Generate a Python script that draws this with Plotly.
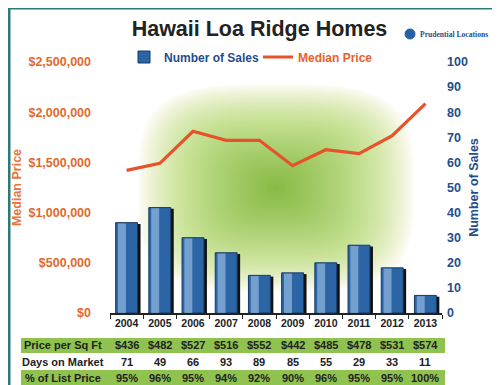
import base64, struct, zlib
import numpy as np
import plotly.graph_objects as go

# ---------------- data ----------------
years = ["2004", "2005", "2006", "2007", "2008", "2009", "2010", "2011", "2012", "2013"]
num_sales = [36, 42, 30, 24, 15, 16, 20, 27, 18, 7]
median_price = [1421000, 1491000, 1810000, 1720000, 1720000, 1467000, 1626000, 1587000, 1766000, 2085000]
price_per_sqft = ["$436", "$482", "$527", "$516", "$552", "$442", "$485", "$478", "$531", "$574"]
days_on_market = ["71", "49", "66", "93", "89", "85", "55", "29", "33", "11"]
pct_list_price = ["95%", "96%", "95%", "94%", "92%", "90%", "96%", "95%", "95%", "100%"]
row_labels = ["Price per Sq Ft", "Days on Market", "% of List Price"]
price_ticks = [0, 500000, 1000000, 1500000, 2000000, 2500000]
sales_ticks = list(range(0, 101, 10))

# ---------------- geometry helpers ----------------
W, H = 500, 385
ML, MR, MT, MB = 102, 66, 54, 80
PW, PH = W - ML - MR, H - MT - MB


def X(px):
    return (px - ML) / PW


def Y(py):
    return (H - MB - py) / PH


# ---------------- background gradient image ----------------
def png_uri(arr):
    h, w, _ = arr.shape
    raw = b"".join(b"\x00" + arr[i].tobytes() for i in range(h))

    def chunk(t, d):
        c = struct.pack(">I", len(d)) + t + d
        return c + struct.pack(">I", zlib.crc32(t + d) & 0xFFFFFFFF)

    png = (b"\x89PNG\r\n\x1a\n"
           + chunk(b"IHDR", struct.pack(">IIBBBBB", w, h, 8, 2, 0, 0, 0))
           + chunk(b"IDAT", zlib.compress(raw, 9))
           + chunk(b"IEND", b""))
    return "data:image/png;base64," + base64.b64encode(png).decode()


xs = np.arange(PW) + ML + 0.5
ys = np.arange(PH) + MT + 0.5
gx, gy = np.meshgrid(xs, ys)
dx = np.abs(gx - 268) / 138.0
dy = np.abs(gy - 180) / 104.0
d = (dx ** 3.5 + dy ** 3.5) ** (1 / 3.5)
t = np.clip(1 - d, 0, 1)
wgt = t ** 0.65
stops = [0.0, 0.15, 0.5, 1.0]
img = np.zeros((PH, PW, 3), dtype=np.uint8)
for ch, vals in enumerate([(255, 246, 200, 136), (255, 247, 226, 187), (255, 228, 150, 70)]):
    img[..., ch] = np.interp(wgt, stops, vals).astype(np.uint8)
bg_uri = png_uri(img)

# ---------------- figure ----------------
fig = go.Figure()

# bar shadow
fig.add_trace(go.Bar(
    x=years, y=[v - 0.5 for v in num_sales], yaxis="y2",
    width=0.66, offset=-0.33 + 0.09,
    marker=dict(color="#111111", line=dict(width=0)),
    showlegend=False, hoverinfo="skip"))
# main bars
fig.add_trace(go.Bar(
    x=years, y=num_sales, yaxis="y2", name="<b><span style='color:#1f4e8c'>Number of Sales</span></b>",
    width=0.66, offset=-0.33,
    marker=dict(color="#2b65a6", line=dict(color="#173a66", width=1))))
# highlight
fig.add_trace(go.Bar(
    x=years, y=[v - 0.3 for v in num_sales], yaxis="y2",
    width=0.24, offset=-0.33 + 0.07,
    marker=dict(color="rgba(175,210,240,0.55)", line=dict(width=0)),
    showlegend=False, hoverinfo="skip"))
# median price line
fig.add_trace(go.Scatter(
    x=years, y=median_price, mode="lines", yaxis="y",
    name="<b><span style='color:#e8612c'>Median Price</span></b>",
    line=dict(color="#e8522a", width=3.2)))

shapes = []
annotations = []

# table bands
for y0, y1 in [(330, 345), (362, 377)]:
    shapes.append(dict(type="rect", xref="paper", yref="paper",
                       x0=X(13), x1=X(437), y0=Y(y1), y1=Y(y0),
                       fillcolor="#8fc24e", line=dict(width=0), layer="below"))

row_y = [337.5, 354, 369.5]
row_vals = [price_per_sqft, days_on_market, pct_list_price]
for lbl, py, vals in zip(row_labels, row_y, row_vals):
    annotations.append(dict(text="<b>%s</b>" % lbl, xref="paper", yref="paper",
                            x=X(55), y=Y(py), xanchor="center", yanchor="middle",
                            showarrow=False, font=dict(size=11, color="#222222")))
    for i, v in enumerate(vals):
        annotations.append(dict(text="<b>%s</b>" % v, xref="paper", yref="paper",
                                x=(i + 0.5) / len(years), y=Y(py), xanchor="center",
                                yanchor="middle", showarrow=False,
                                font=dict(size=11, color="#222222")))

# frame
frame_col = "#2a7a78"
shapes += [
    dict(type="line", xref="paper", yref="paper", x0=X(1), x1=X(1), y0=Y(0), y1=Y(385),
         line=dict(color=frame_col, width=3)),
    dict(type="line", xref="paper", yref="paper", x0=X(0), x1=X(500), y0=Y(0.5), y1=Y(0.5),
         line=dict(color=frame_col, width=2)),
    dict(type="line", xref="paper", yref="paper", x0=X(0), x1=X(500), y0=Y(383.5), y1=Y(383.5),
         line=dict(color=frame_col, width=3)),
]

# logo
shapes.append(dict(type="circle", xref="paper", yref="paper",
                   x0=X(397), x1=X(407), y0=Y(31), y1=Y(21),
                   fillcolor="#2360a8", line=dict(color="#2360a8", width=1)))
annotations.append(dict(text="<b>Prudential Locations</b>", xref="paper", yref="paper",
                        x=X(410), y=Y(26), xanchor="left", yanchor="middle", showarrow=False,
                        font=dict(family="Liberation Serif, DejaVu Serif, serif", size=7.6,
                                  color="#1f4e8c")))

fig.update_layout(
    width=W, height=H,
    margin=dict(l=ML, r=MR, t=MT, b=MB),
    paper_bgcolor="white", plot_bgcolor="rgba(0,0,0,0)",
    font=dict(family="Liberation Sans, Arial, sans-serif", color="#222222"),
    title=dict(text="<b>Hawaii Loa Ridge Homes</b>", x=0.503, xanchor="center",
               y=1 - 20 / H, yanchor="middle", font=dict(size=21.5, color="#222222")),
    barmode="overlay",
    showlegend=True,
    legend=dict(orientation="h", x=X(116), y=Y(49), xanchor="left", yanchor="middle",
                bgcolor="rgba(0,0,0,0)", font=dict(size=12),
                entrywidth=89, entrywidthmode="pixels", itemwidth=30),
    xaxis=dict(type="category", range=[-0.5, 9.5], showline=True, linecolor="#222222",
               linewidth=1.5, ticks="outside", tickson="boundaries", ticklen=4,
               tickcolor="#222222", tickwidth=1.2, showgrid=False, zeroline=False,
               tickangle=0, tickfont=dict(size=10.5, color="#222222"), automargin=False,
               ticktext=["<b>%s</b>" % y for y in years], tickvals=years),
    yaxis=dict(range=[0, 2500000], tickvals=price_ticks,
               ticktext=["<b>${:,.0f}</b>".format(v) for v in price_ticks],
               tickfont=dict(size=12.5, color="#e2692b"), showgrid=False, zeroline=False,
               showline=False, ticks="", ticklabelstandoff=18, automargin=False,
               title=dict(text="<b>Median Price</b>", standoff=4,
                          font=dict(size=12.5, color="#e8743b"))),
    yaxis2=dict(range=[0, 100], tickvals=sales_ticks,
                ticktext=["<b>%d</b>" % v for v in sales_ticks],
                overlaying="y", side="right", anchor="x",
                tickfont=dict(size=12.5, color="#1f4e8c"), showgrid=False, zeroline=False,
                showline=False, ticks="", ticklabelstandoff=4, automargin=False,
                title=dict(text="<b>Number of Sales</b>", standoff=2,
                           font=dict(size=12.5, color="#1f4e8c"))),
    shapes=shapes,
    annotations=annotations,
    images=[dict(source=bg_uri, xref="paper", yref="paper", x=0, y=1, sizex=1, sizey=1,
                 xanchor="left", yanchor="top", sizing="stretch", layer="below")],
)

fig.write_html("out.html")
